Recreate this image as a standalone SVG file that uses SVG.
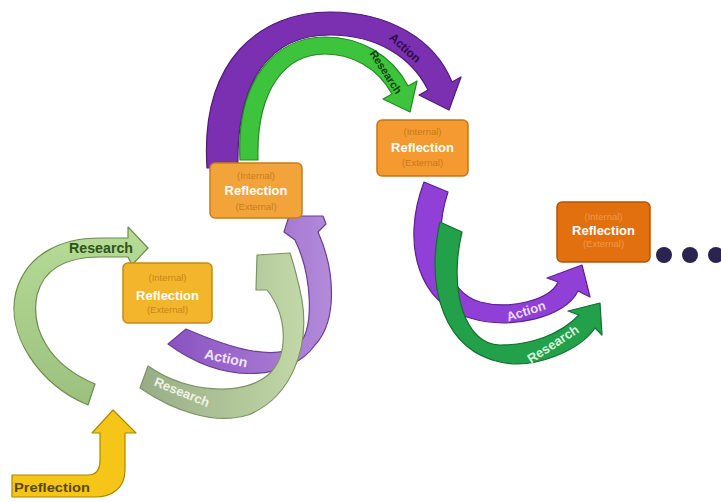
<svg xmlns="http://www.w3.org/2000/svg" width="721" height="502" viewBox="0 0 721 502">
<defs>
 <linearGradient id="gSage" x1="0" y1="0" x2="1" y2="0">
  <stop offset="0" stop-color="#98ad86"/>
  <stop offset="1" stop-color="#c3d8a7"/>
 </linearGradient>
 <linearGradient id="gPurpMid" x1="0" y1="0" x2="1" y2="0">
  <stop offset="0" stop-color="#8a52c2"/>
  <stop offset="1" stop-color="#b38ad9"/>
 </linearGradient>
 <linearGradient id="gLeaf" x1="0" y1="0" x2="0" y2="1">
  <stop offset="0" stop-color="#b6dc96"/>
  <stop offset="1" stop-color="#9cc07e"/>
 </linearGradient>
</defs>
<style>
.arr{stroke-width:1.2;stroke-linejoin:round}
.lbl{font-family:"Liberation Sans",Arial,sans-serif;font-weight:bold;text-anchor:middle;dominant-baseline:central}
.box{stroke-width:1.5}
.bt{font-family:"Liberation Sans",Arial,sans-serif;text-anchor:middle;dominant-baseline:central}
.sm{font-size:9.5px;fill:#9a5a08;fill-opacity:0.55}
.big{font-size:13px;font-weight:bold;fill:#ffffff}
</style>
<rect width="721" height="502" fill="#ffffff"/>
<g id="connectors">
 <g id="research-left">
  <path class="arr" fill="url(#gLeaf)" stroke="#6c8c4e" d="M88,405 C40,385 5,335 16,292 C26,255 60,238 100,238 L128,238 L128,227 L148,248 L132,265 L128,257 L100,257 C68,257 44,268 37,295 C30,330 50,365 95,384 Z"/>
  <text class="lbl" x="101" y="248" font-size="14" fill="#2c5418" textLength="64" lengthAdjust="spacingAndGlyphs">Research</text>
 </g>
 <g id="preflection">
  <path class="arr" fill="#f5c518" stroke="#a88a00" d="M12,475 L88,475 C96,475 100,470 100,460 L100,433 L92,433 L113,410 L136,433 L125,433 L125,470 C125,488 112,497 95,497 L12,497 Z"/>
  <text class="lbl" x="52" y="487" font-size="13" fill="#5a4800" textLength="76" lengthAdjust="spacingAndGlyphs">Preflection</text>
 </g>
 <g id="action-mid">
  <path class="arr" fill="url(#gPurpMid)" stroke="#6a3f92" d="M186,329 C230,348 275,362 298,345 C315,330 312,275 295,240 L284,232 L289,216 L323,216 L326,224 L318,232 C335,270 338,320 315,345 C292,378 228,388 168,344 Z"/>
  <text class="lbl" x="226" y="358" font-size="14" fill="#efe4fb" transform="rotate(12 226 358)">Action</text>
 </g>
 <g id="research-mid">
  <path class="arr" fill="url(#gSage)" stroke="#7d9467" d="M140,388 C175,412 215,425 248,415 C290,398 310,350 302,300 C298,280 294,265 290,253 L257,255 L256,290 L267,290 C287,315 290,355 268,375 C245,395 190,395 148,366 Z"/>
  <text class="lbl" x="182" y="392" font-size="13" fill="#eef3e4" transform="rotate(22 182 392)">Research</text>
 </g>
 <g id="action-top">
  <path class="arr" fill="#7b30b2" stroke="#4e1a78" d="M207,168 C200,60 260,12 330,12 C390,12 435,40 452,82 L461,77 L449,110 L419,95 L428,90 C412,58 378,35 330,35 C270,35 236,80 238,168 Z"/>
  <text class="lbl" x="405" y="48" font-size="12" fill="#2a0f45" transform="rotate(42 405 48)">Action</text>
 </g>
 <g id="research-top">
  <path class="arr" fill="#3ec43c" stroke="#238a22" d="M240,160 C236,80 275,37 325,37 C360,37 392,55 408,86 L417,81 L410,112 L383,99 L392,94 C378,68 352,54 325,54 C285,54 256,90 258,160 Z"/>
  <text class="lbl" x="386" y="72" font-size="11" fill="#10400f" transform="rotate(57 386 72)">Research</text>
 </g>
 <g id="action-right">
  <path class="arr" fill="#9040d6" stroke="#5e2090" d="M424,182 C400,245 420,305 470,318 C510,330 565,318 578,291 L590,297 L582,265 L547,278 L558,282 C550,300 510,310 480,302 C445,292 432,240 448,192 Z"/>
  <text class="lbl" x="526" y="311" font-size="13" fill="#eadcff" transform="rotate(-18 526 311)">Action</text>
 </g>
 <g id="research-right">
  <path class="arr" fill="#22a04a" stroke="#12702e" d="M440,222 C425,290 445,350 500,362 C535,370 580,350 595,328 L602,335 L600,303 L568,311 L579,315 C560,335 530,345 500,345 C465,345 448,290 462,232 Z"/>
  <text class="lbl" x="553" y="344" font-size="13" fill="#d9f5dc" transform="rotate(-33 553 344)">Research</text>
 </g>
</g>
<g id="node-reflection-1">
 <rect class="box" x="123" y="263" width="89" height="60" rx="5" fill="#f2b52c" stroke="#c48a16"/>
 <text class="bt sm" x="167.5" y="277">(Internal)</text>
 <text class="bt big" x="167.5" y="295">Reflection</text>
 <text class="bt sm" x="167.5" y="309">(External)</text>
</g>
<g id="node-reflection-2">
 <rect class="box" x="210" y="163" width="92" height="55" rx="5" fill="#f2a43a" stroke="#c47e1e"/>
 <text class="bt sm" x="256" y="175">(Internal)</text>
 <text class="bt big" x="256" y="190">Reflection</text>
 <text class="bt sm" x="256" y="206">(External)</text>
</g>
<g id="node-reflection-3">
 <rect class="box" x="377" y="120" width="91" height="56" rx="5" fill="#f49a30" stroke="#c4761a"/>
 <text class="bt sm" x="422.5" y="131">(Internal)</text>
 <text class="bt big" x="422.5" y="147">Reflection</text>
 <text class="bt sm" x="422.5" y="162">(External)</text>
</g>
<g id="node-reflection-4">
 <rect class="box" x="557" y="202" width="93" height="60" rx="5" fill="#e2700e" stroke="#b0560a"/>
 <text class="bt sm" x="603.5" y="216" style="fill:#f7a060;fill-opacity:0.8">(Internal)</text>
 <text class="bt big" x="603.5" y="230">Reflection</text>
 <text class="bt sm" x="603.5" y="243" style="fill:#f7a060;fill-opacity:0.8">(External)</text>
</g>
<g id="node-ellipsis" fill="#2b2350">
 <circle cx="664" cy="255" r="8"/>
 <circle cx="690" cy="255" r="8"/>
 <circle cx="716" cy="255" r="8"/>
</g>
</svg>
